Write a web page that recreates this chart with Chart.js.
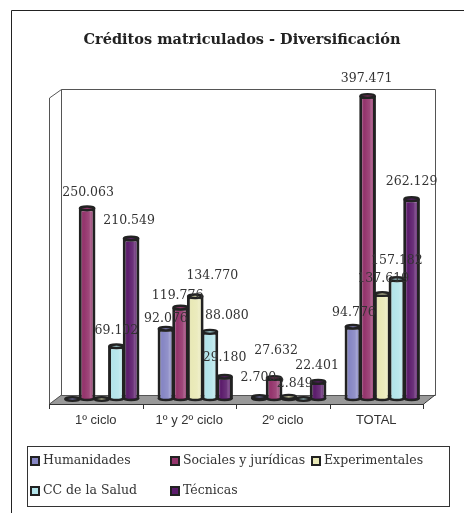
<!DOCTYPE html>
<html>
<head>
<meta charset="utf-8">
<style>
  html, body { margin: 0; padding: 0; background: #fff; }
  canvas { display: block; }
</style>
<script src="https://cdn.jsdelivr.net/npm/chart.js@4/dist/chart.umd.min.js"></script>
</head>
<body>
<canvas id="creditos" width="464" height="513"></canvas>
<script>
// Datos
const ciclos = ['1º ciclo', '1º y 2º ciclo', '2º ciclo', 'TOTAL'];
const humanidades = [0, 92076, 2700, 94776];
const sociales = [250063, 119776, 27632, 397471];
const experimentales = [0, 134770, 2849, 137619];
const salud = [69102, 88080, 0, 157182];
const tecnicas = [210549, 29180, 22401, 262129];

// Etiquetas colocadas a mano en el original: [dx, dy] respecto a la barra
const labelNudge = [
  [null, [0, -10], [-1, -19], [1, -14]],
  [[1, -16], [-3, -12], [2, -27], [-1, -17]],
  [null, [17, -20], [6, -13], [1, -15]],
  [[0, -16], [17, -16], null, [0, -18]],
  [[-2, -18], [0, -19], [-1, -16], [0, -17]]
];

const FONT_SERIF = "'DejaVu Serif', serif";
const colores = ['#8686c4', '#94346c', '#e9e9b7', '#b3e4ea', '#5c1c6c'];
const series = [
  ['Humanidades', humanidades],
  ['Sociales y jurídicas', sociales],
  ['Experimentales', experimentales],
  ['CC de la Salud', salud],
  ['Técnicas', tecnicas]
];

// Marco, paredes y suelo del falso 3D
const fondo3d = {
  id: 'fondo3d',
  beforeDatasetsDraw(chart) {
    const c = chart.ctx;
    const a = chart.chartArea;
    const fx = a.left - 6, fr = a.right - 6, fy = a.bottom + 5;
    const bx = a.left + 6, br = a.right + 6, by = a.bottom - 4, bt = a.top - 5;
    c.save();
    c.strokeStyle = '#222';
    c.lineWidth = 1;
    c.beginPath();
    c.moveTo(11.5, 513); c.lineTo(11.5, 10.5); c.lineTo(464, 10.5);
    c.stroke();

    c.fillStyle = '#999';
    c.beginPath();
    c.moveTo(fx, fy); c.lineTo(fr, fy); c.lineTo(br, by); c.lineTo(bx, by);
    c.closePath();
    c.fill();

    c.strokeStyle = '#555';
    c.beginPath();
    c.rect(bx + .5, bt + .5, br - bx, by - bt);
    c.moveTo(fx + .5, fy); c.lineTo(fx + .5, bt + 9); c.lineTo(bx + .5, bt + .5);
    c.moveTo(fx, fy + .5); c.lineTo(bx + .5, by);
    c.stroke();
    c.strokeStyle = '#333';
    c.beginPath();
    c.moveTo(fx, fy + .5); c.lineTo(fr, fy + .5); c.lineTo(br, by);
    for (let i = 0; i <= ciclos.length; i++) {
      const x = Math.round(fx + i * (fr - fx) / ciclos.length) + .5;
      c.moveTo(x, fy); c.lineTo(x, fy + 5);
    }
    c.stroke();
    c.restore();
  }
};

// Sombreado y tapas de los cilindros, dataset a dataset para respetar el orden
const cilindros = {
  id: 'cilindros',
  afterDatasetDraw(chart, args) {
    const c = chart.ctx;
    const color = colores[args.index];
    args.meta.data.forEach(bar => {
      const p = bar.getProps(['x', 'y', 'base', 'width'], true);
      const l = p.x - p.width / 2, rx = p.width / 2;
      c.save();
      if (p.base - p.y > 1) {
        const g = c.createLinearGradient(l, 0, l + p.width, 0);
        g.addColorStop(0, 'rgba(0,0,0,.2)');
        g.addColorStop(.3, 'rgba(255,255,255,0)');
        g.addColorStop(.62, 'rgba(255,255,255,.1)');
        g.addColorStop(.72, 'rgba(255,255,255,.25)');
        g.addColorStop(.85, 'rgba(255,255,255,.05)');
        g.addColorStop(1, 'rgba(0,0,0,.18)');
        c.fillStyle = g;
        c.fillRect(l + 3, p.y, p.width - 6, p.base - p.y);
      }
      c.fillStyle = color;
      c.strokeStyle = '#222';
      c.lineWidth = 2.5;
      // base
      if (p.base - p.y > 1) {
        c.beginPath();
        c.ellipse(p.x, p.base - 1, rx - 1.2, 2, 0, 0, Math.PI);
        c.fill();
        c.stroke();
      }
      // tapa
      c.beginPath();
      c.ellipse(p.x, p.y, rx - 1.2, 1.8, 0, 0, Math.PI * 2);
      c.fill();
      c.stroke();
      c.restore();
    });
  }
};

// Etiquetas de valor y leyenda
const textos = {
  id: 'textos',
  afterDraw(chart) {
    const c = chart.ctx;
    c.save();
    c.font = '12.5px ' + FONT_SERIF;
    c.fillStyle = '#333';
    c.textAlign = 'center';
    c.textBaseline = 'middle';
    chart.data.datasets.forEach((ds, d) => {
      chart.getDatasetMeta(d).data.forEach((bar, i) => {
        const n = labelNudge[d][i];
        if (!ds.data[i] || !n) return;
        c.fillText(ds.data[i].toLocaleString('de-DE'), bar.x + n[0], bar.y + n[1]);
      });
    });

    c.strokeStyle = '#333';
    c.lineWidth = 1;
    c.strokeRect(27.5, 446.5, 422, 60);
    const colX = [30, 170, 311];
    c.textAlign = 'left';
    c.font = '12.5px ' + FONT_SERIF;
    chart.data.datasets.forEach((ds, d) => {
      const x = colX[d % 3];
      const y = d < 3 ? 461 : 491;
      c.fillStyle = '#222';
      c.fillRect(x, y - 5, 10, 10);
      c.fillStyle = colores[d];
      c.fillRect(x + 2, y - 3, 6, 6);
      c.fillStyle = '#333';
      c.fillText(ds.label, x + 13, y);
    });
    c.restore();
  }
};

new Chart(document.getElementById('creditos'), {
  type: 'bar',
  data: {
    labels: ciclos,
    datasets: series.map((s, i) => ({
      label: s[0],
      data: s[1],
      backgroundColor: colores[i],
      borderColor: '#222',
      borderWidth: 3,
      categoryPercentage: 0.784,
      barPercentage: 1.14
    }))
  },
  options: {
    responsive: false,
    animation: false,
    layout: { padding: { left: 55, right: 35, top: 0, bottom: 0 } },
    plugins: {
      legend: { display: false },
      tooltip: { enabled: false },
      title: {
        display: true,
        text: 'Créditos matriculados - Diversificación',
        color: '#222',
        font: { family: FONT_SERIF, size: 14.5, weight: 'bold', lineHeight: 1.2 },
        padding: { top: 32, bottom: 44.6 }
      }
    },
    scales: {
      x: {
        grid: { display: false },
        border: { display: false },
        afterFit(scale) { scale.height = 114; },
        ticks: {
          color: '#333',
          padding: 6,
          labelOffset: -6,
          maxRotation: 0,
          font: { family: "'Liberation Sans', sans-serif", size: 13 }
        }
      },
      y: { display: false, min: 0, max: 400000 }
    }
  },
  plugins: [fondo3d, cilindros, textos]
});
</script>
</body>
</html>
